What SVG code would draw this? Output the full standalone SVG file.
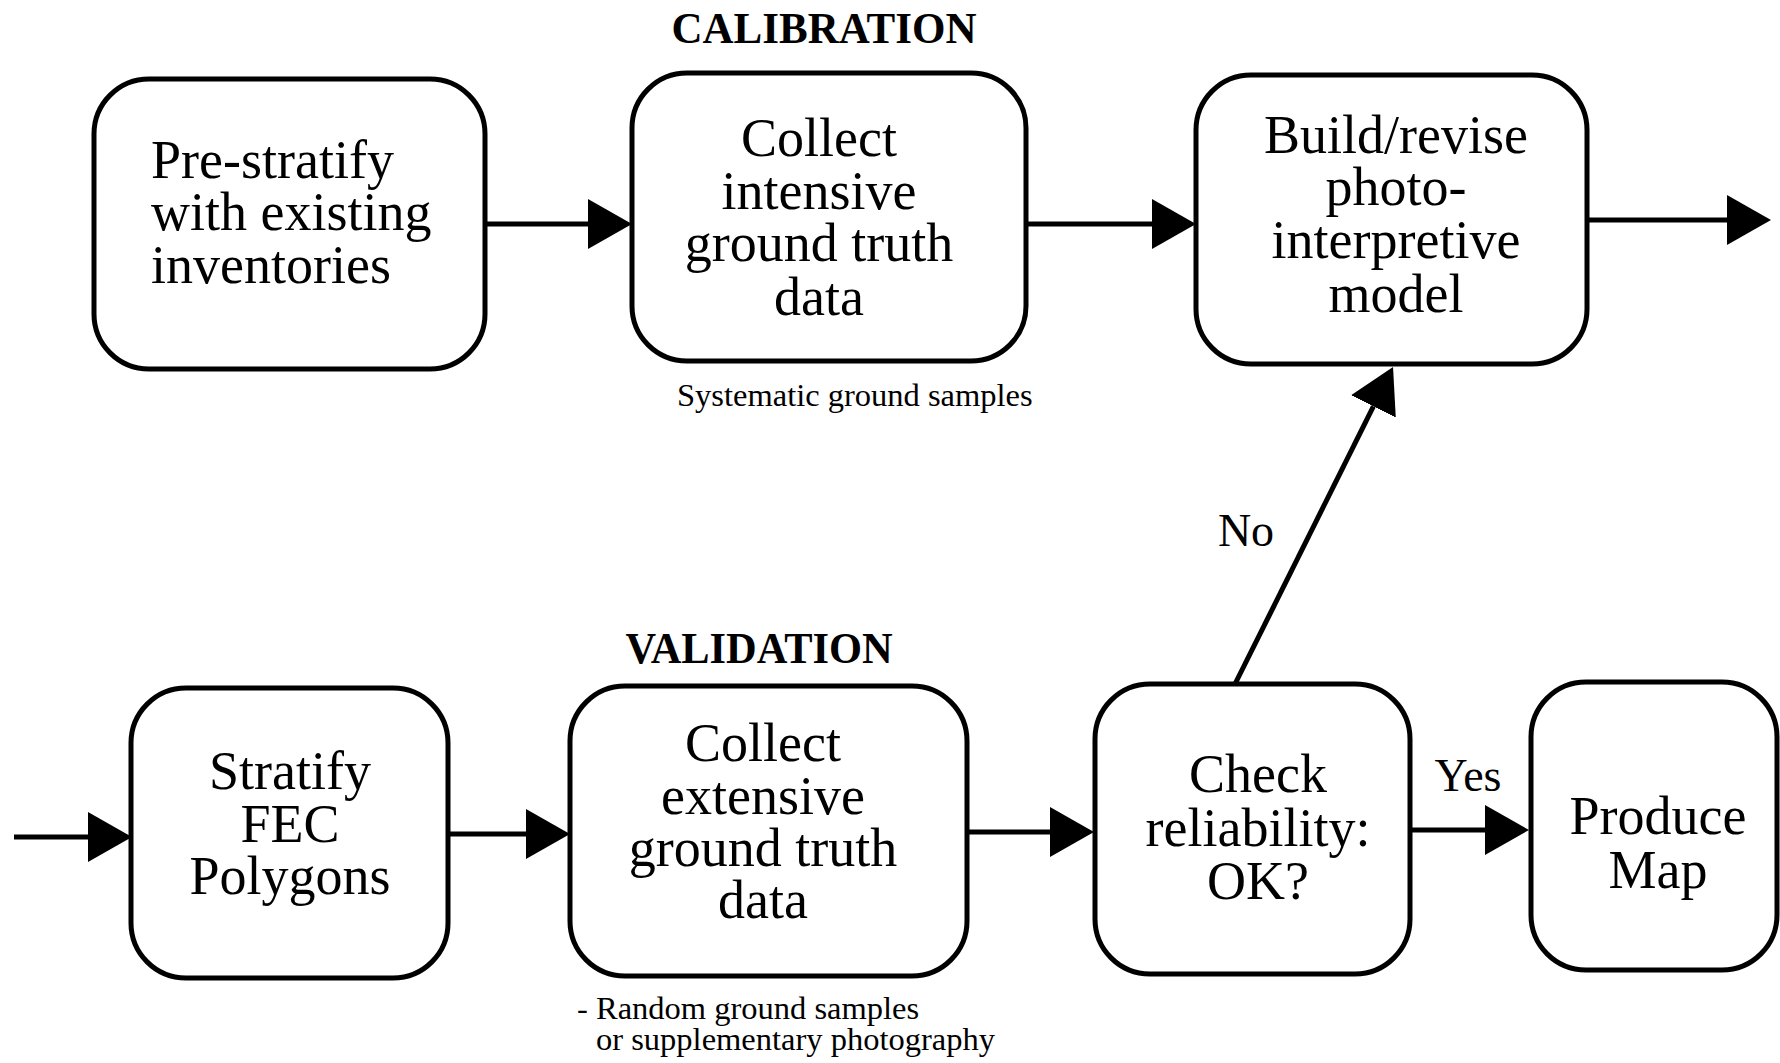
<svg xmlns="http://www.w3.org/2000/svg" width="1780" height="1063" viewBox="0 0 1780 1063">
<style>
.box{fill:#fff;stroke:#000;stroke-width:5}
.t{font-family:"Liberation Serif","Times New Roman",serif;font-size:54px;fill:#000;text-anchor:middle}
.ts{font-family:"Liberation Serif","Times New Roman",serif;font-size:54px;fill:#000;text-anchor:start}
.h{font-family:"Liberation Serif","Times New Roman",serif;font-size:44px;font-weight:bold;fill:#000;text-anchor:middle}
.c{font-family:"Liberation Serif","Times New Roman",serif;font-size:32.5px;fill:#000}
.l{font-family:"Liberation Serif","Times New Roman",serif;font-size:46px;fill:#000;text-anchor:middle}
.e{fill:none;stroke:#000;stroke-width:5;marker-end:url(#ah)}
</style>
<defs>
<marker id="ah" viewBox="0 0 44 50" refX="0" refY="25" markerWidth="44" markerHeight="50" markerUnits="userSpaceOnUse" orient="auto">
<path d="M0,0 L44,25 L0,50 Z" fill="#000"/>
</marker>
</defs>
<rect width="1780" height="1063" fill="#fff"/>
<text class="h" x="824" y="43" textLength="305" lengthAdjust="spacingAndGlyphs">CALIBRATION</text>
<text class="h" x="759" y="663" textLength="267" lengthAdjust="spacingAndGlyphs">VALIDATION</text>
<g id="connectors">
<path class="e" d="M485,224 L588,224"/>
<path class="e" d="M1026,224 L1152,224"/>
<path class="e" d="M1587,220 L1727,220"/>
<path class="e" d="M14,837 L88,837"/>
<path class="e" d="M448,834 L526,834"/>
<path class="e" d="M967,832 L1050,832"/>
<path class="e" d="M1412,830 L1485,830"/>
<path class="e" d="M1235,684 L1373.4,406.4"/>
<text class="l" x="1246" y="546">No</text>
<text class="l" x="1468" y="791">Yes</text>
</g>
<g id="prestratify">
<rect class="box" x="94" y="79" width="391" height="290" rx="55"/>
<text class="ts" x="151" y="178">Pre-stratify</text>
<text class="ts" x="151" y="230">with existing</text>
<text class="ts" x="151" y="283">inventories</text>
</g>
<g id="collect-intensive">
<rect class="box" x="632" y="73" width="394" height="288" rx="55"/>
<text class="t" x="819" y="156">Collect</text>
<text class="t" x="819" y="209">intensive</text>
<text class="t" x="819" y="261">ground truth</text>
<text class="t" x="819" y="315">data</text>
<text class="c" x="677" y="406">Systematic ground samples</text>
</g>
<g id="build-model">
<rect class="box" x="1196" y="75" width="391" height="289" rx="55"/>
<text class="t" x="1396" y="153">Build/revise</text>
<text class="t" x="1396" y="205">photo-</text>
<text class="t" x="1396" y="258">interpretive</text>
<text class="t" x="1396" y="312">model</text>
</g>
<g id="stratify-fec">
<rect class="box" x="131" y="688" width="317" height="290" rx="55"/>
<text class="t" x="290" y="789">Stratify</text>
<text class="t" x="290" y="842">FEC</text>
<text class="t" x="290" y="894">Polygons</text>
</g>
<g id="collect-extensive">
<rect class="box" x="570" y="686" width="397" height="290" rx="55"/>
<text class="t" x="763" y="761">Collect</text>
<text class="t" x="763" y="814">extensive</text>
<text class="t" x="763" y="866">ground truth</text>
<text class="t" x="763" y="918">data</text>
<text class="c" x="577" y="1019">- Random ground samples</text>
<text class="c" x="596" y="1050">or supplementary photography</text>
</g>
<g id="check-reliability">
<rect class="box" x="1095" y="684" width="315" height="290" rx="55"/>
<text class="t" x="1258" y="792">Check</text>
<text class="t" x="1258" y="846">reliability:</text>
<text class="t" x="1258" y="899">OK?</text>
</g>
<g id="produce-map">
<rect class="box" x="1531" y="682" width="246" height="288" rx="55"/>
<text class="t" x="1658" y="834">Produce</text>
<text class="t" x="1658" y="888">Map</text>
</g>
</svg>
